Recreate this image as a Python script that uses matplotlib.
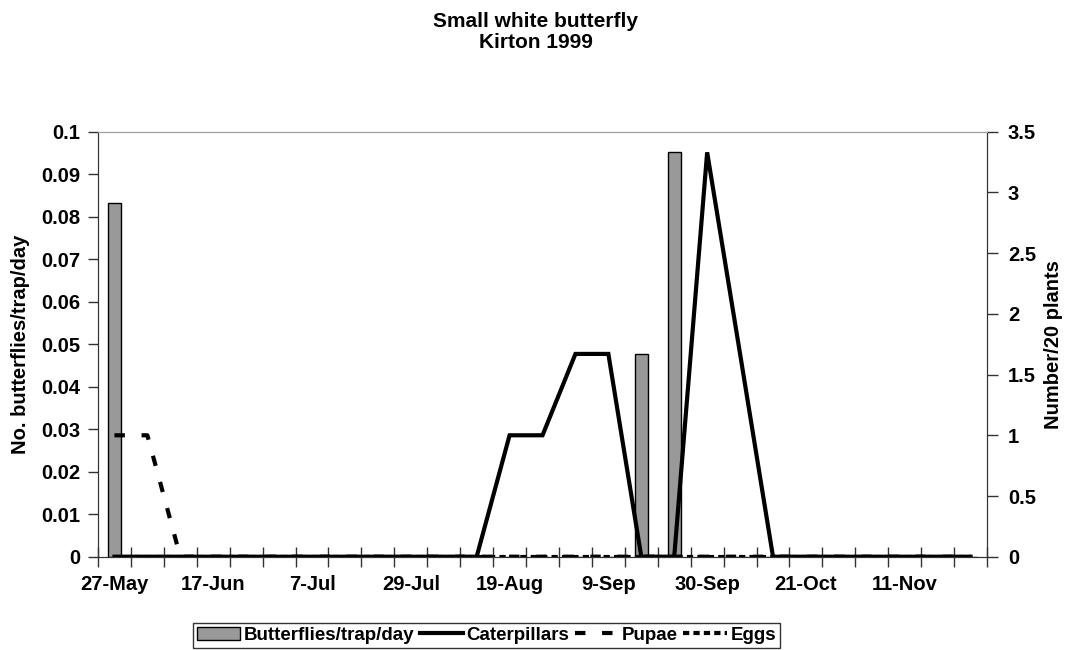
import matplotlib
matplotlib.use("Agg")
import matplotlib.pyplot as plt
from matplotlib.lines import Line2D
from matplotlib.patches import Patch
import numpy as np

plt.rcParams['font.family'] = ['Liberation Sans', 'DejaVu Sans']
plt.rcParams['font.weight'] = 'bold'

# Sampling dates (one category per visit)
dates = ["27-May", "3-Jun", "10-Jun", "17-Jun", "24-Jun", "30-Jun", "7-Jul",
         "14-Jul", "22-Jul", "29-Jul", "5-Aug", "12-Aug", "19-Aug", "26-Aug",
         "2-Sep", "9-Sep", "16-Sep", "23-Sep", "30-Sep", "7-Oct", "14-Oct",
         "21-Oct", "28-Oct", "4-Nov", "11-Nov", "18-Nov", "25-Nov"]

butterflies = [0.0833, 0, 0, 0, 0, 0, 0, 0, 0, 0, 0, 0, 0, 0, 0, 0,
               0.0476, 0.0952, 0, 0, 0, 0, 0, 0, 0, 0, 0]
caterpillars = [0, 0, 0, 0, 0, 0, 0, 0, 0, 0, 0, 0, 1, 1, 1.67, 1.67,
                0, 0, 3.33, 1.67, 0, 0, 0, 0, 0, 0, 0]
pupae = [1, 1, 0, 0, 0, 0, 0, 0, 0, 0, 0, 0, 0, 0, 0, 0,
         0, 0, 0, 0, 0, 0, 0, 0, 0, 0, 0]
eggs = [0] * 27

left_ticks = [0, 0.01, 0.02, 0.03, 0.04, 0.05, 0.06, 0.07, 0.08, 0.09, 0.1]
left_labels = ["0", "0.01", "0.02", "0.03", "0.04", "0.05", "0.06", "0.07",
               "0.08", "0.09", "0.1"]
right_ticks = [0, 0.5, 1, 1.5, 2, 2.5, 3, 3.5]
right_labels = ["0", "0.5", "1", "1.5", "2", "2.5", "3", "3.5"]

fs_tick = 14.5
fs_label = 14.5
fs_title = 15
fs_leg = 13.5
pupae_dash = (0, (2.5, 4))
eggs_dash = (0, (1.5, 1.0))
x = np.arange(len(dates))

fig = plt.figure(figsize=(10.71, 6.5), dpi=100)
ax = fig.add_axes([0.0915, 0.1435, 0.8301, 0.6539])
ax2 = ax.twinx()

ax.bar(x, butterflies, width=0.4, color="#999999", edgecolor="black",
       linewidth=1.0, zorder=2)

ax2.plot(x, eggs, color="black", lw=3, linestyle=eggs_dash)
ax2.plot(x, pupae, color="black", lw=3, linestyle=pupae_dash)
ax2.plot(x, caterpillars, color="black", lw=3, solid_joinstyle="miter")

ax.set_xlim(-0.5, len(dates) - 0.5)
ax.set_ylim(0, 0.1)
ax2.set_ylim(0, 3.5)

# category boundary ticks, labels every third category
ax.set_xticks(np.arange(len(dates) + 1) - 0.5)
ax.set_xticklabels([])
ax.tick_params(axis="x", which="major", direction="inout", length=14,
               width=1, color="#333333")
ax.set_xticks(x[::3], minor=True)
ax.set_xticklabels(dates[::3], minor=True, fontsize=fs_tick, fontweight="bold")
ax.tick_params(axis="x", which="minor", length=0, pad=13)

ax.set_yticks(left_ticks)
ax.set_yticklabels(left_labels, fontsize=fs_tick, fontweight="bold")
ax.tick_params(axis="y", direction="out", length=7, width=1, color="#333333",
               pad=6)
ax2.set_yticks(right_ticks)
ax2.set_yticklabels(right_labels, fontsize=fs_tick, fontweight="bold")
ax2.tick_params(axis="y", direction="out", length=8, width=1, color="#333333",
                pad=7)

for a in (ax, ax2):
    a.spines["top"].set_color("#a0a0a0")
    a.spines["left"].set_color("#333333")
    a.spines["right"].set_color("#333333")
    a.spines["bottom"].set_color("#333333")

ax.set_ylabel("No. butterflies/trap/day", fontsize=fs_label, fontweight="bold",
              labelpad=8)
ax2.set_ylabel("Number/20 plants", fontsize=fs_label, fontweight="bold",
               labelpad=6)

fig.text(0.5, 0.982, "Small white butterfly\nKirton 1999", ha="center",
         va="top", fontsize=fs_title, fontweight="bold", linespacing=1.15)

handles = [
    Patch(facecolor="#999999", edgecolor="black", linewidth=1.0),
    Line2D([], [], color="black", lw=3),
    Line2D([], [], color="black", lw=3, linestyle=pupae_dash),
    Line2D([], [], color="black", lw=3, linestyle=eggs_dash),
]
names = ["Butterflies/trap/day", "Caterpillars", "Pupae", "Eggs"]
leg = fig.legend(handles, names, loc="lower center",
                 bbox_to_anchor=(0.454, 0.0), ncol=4, frameon=True,
                 fancybox=False, edgecolor="black",
                 prop={"weight": "bold", "size": fs_leg},
                 handlelength=2.3, handletextpad=0.2, columnspacing=0.3,
                 borderpad=0.2, borderaxespad=0.12)
leg.get_frame().set_linewidth(1.0)

fig.savefig("out.png", dpi=100, facecolor="white")
